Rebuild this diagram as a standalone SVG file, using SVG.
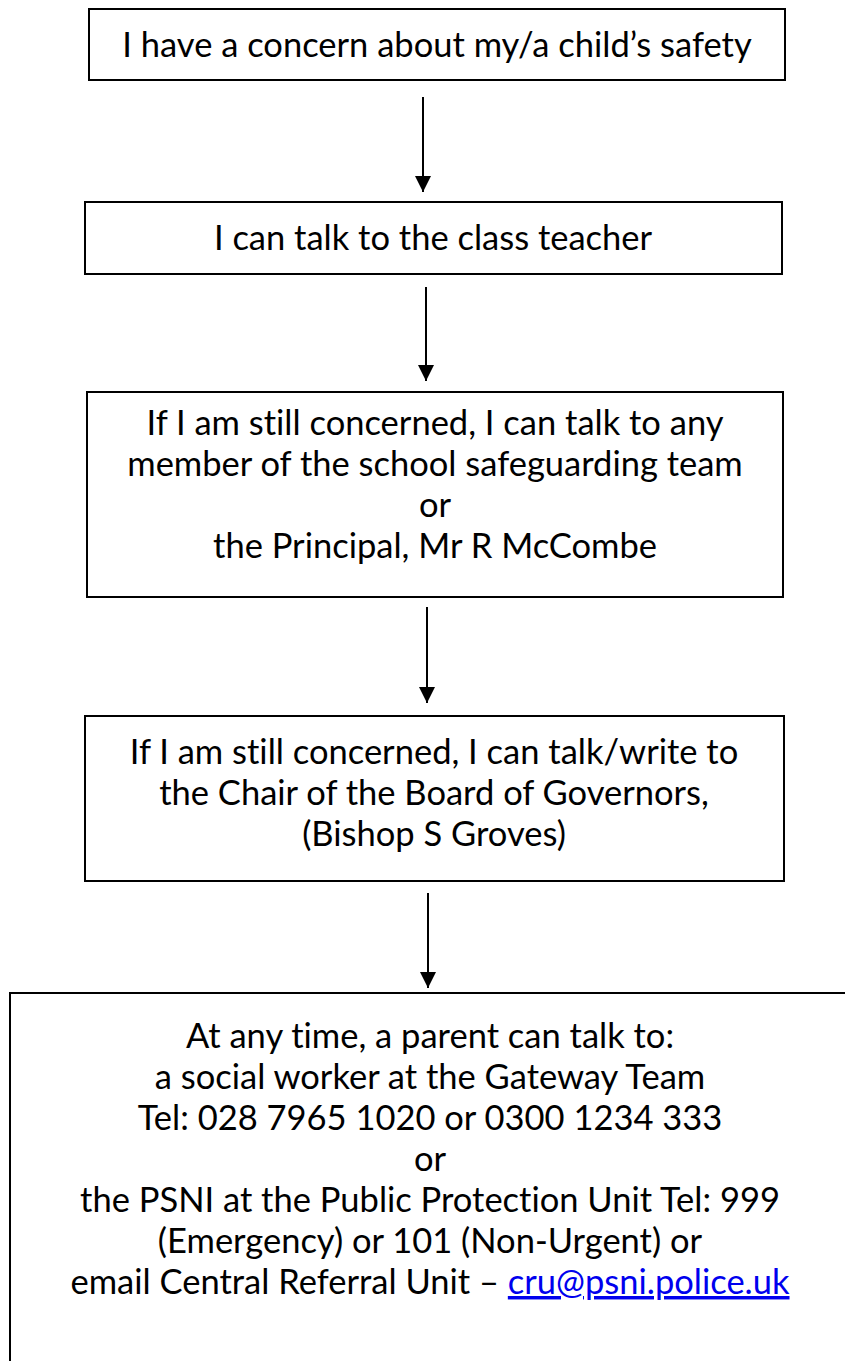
<svg xmlns="http://www.w3.org/2000/svg" width="845" height="1361" viewBox="0 0 845 1361">
<style>
.box{fill:#fff;stroke:#000;stroke-width:2}
.t{font-family:Lato,"Open Sans","Liberation Sans",sans-serif;font-size:34.5px;fill:#000;text-anchor:middle;font-variant-ligatures:none;font-feature-settings:"liga" 0}
.link{fill:#0000ee;text-decoration:underline}
.conn line{stroke:#000;stroke-width:2}
</style>
<defs>
<marker id="ah" markerWidth="8" markerHeight="8" refX="8" refY="4" orient="auto" markerUnits="strokeWidth">
<path d="M0,0 L8,4 L0,8 Z" fill="#000"/>
</marker>
</defs>
<rect width="845" height="1361" fill="#fff"/>
<g id="n1"><rect class="box" x="89" y="9" width="696" height="71"/>
<text class="t" x="437" y="57">I have a concern about my/a child’s safety</text></g>
<g id="n2"><rect class="box" x="85" y="202" width="697" height="72"/>
<text class="t" x="433" y="250">I can talk to the class teacher</text></g>
<g id="n3"><rect class="box" x="87" y="392" width="696" height="205"/>
<text class="t" x="435" y="435">If I am still concerned, I can talk to any</text>
<text class="t" x="435" y="476">member of the school safeguarding team</text>
<text class="t" x="435" y="517">or</text>
<text class="t" x="435" y="558">the Principal, Mr R McCombe</text></g>
<g id="n4"><rect class="box" x="85" y="716" width="699" height="165"/>
<text class="t" x="434" y="764">If I am still concerned, I can talk/write to</text>
<text class="t" x="434" y="805">the Chair of the Board of Governors,</text>
<text class="t" x="434" y="846">(Bishop S Groves)</text></g>
<g id="n5"><path class="box" d="M10,1370 L10,993 L850,993" fill="none"/>
<text class="t" x="430" y="1048">At any time, a parent can talk to:</text>
<text class="t" x="430" y="1089">a social worker at the Gateway Team</text>
<text class="t" x="430" y="1130">Tel: 028 7965 1020 or 0300 1234 333</text>
<text class="t" x="430" y="1171">or</text>
<text class="t" x="430" y="1212">the PSNI at the Public Protection Unit Tel: 999</text>
<text class="t" x="430" y="1253">(Emergency) or 101 (Non-Urgent) or</text>
<text class="t" x="430" y="1294">email Central Referral Unit – <tspan class="link">cru@psni.police.uk</tspan></text></g>
<g id="connectors" class="conn">
<line x1="423" y1="97" x2="423" y2="192" marker-end="url(#ah)"/>
<line x1="426" y1="287" x2="426" y2="381" marker-end="url(#ah)"/>
<line x1="427" y1="607" x2="427" y2="703" marker-end="url(#ah)"/>
<line x1="428" y1="893" x2="428" y2="988" marker-end="url(#ah)"/>
</g>
</svg>
